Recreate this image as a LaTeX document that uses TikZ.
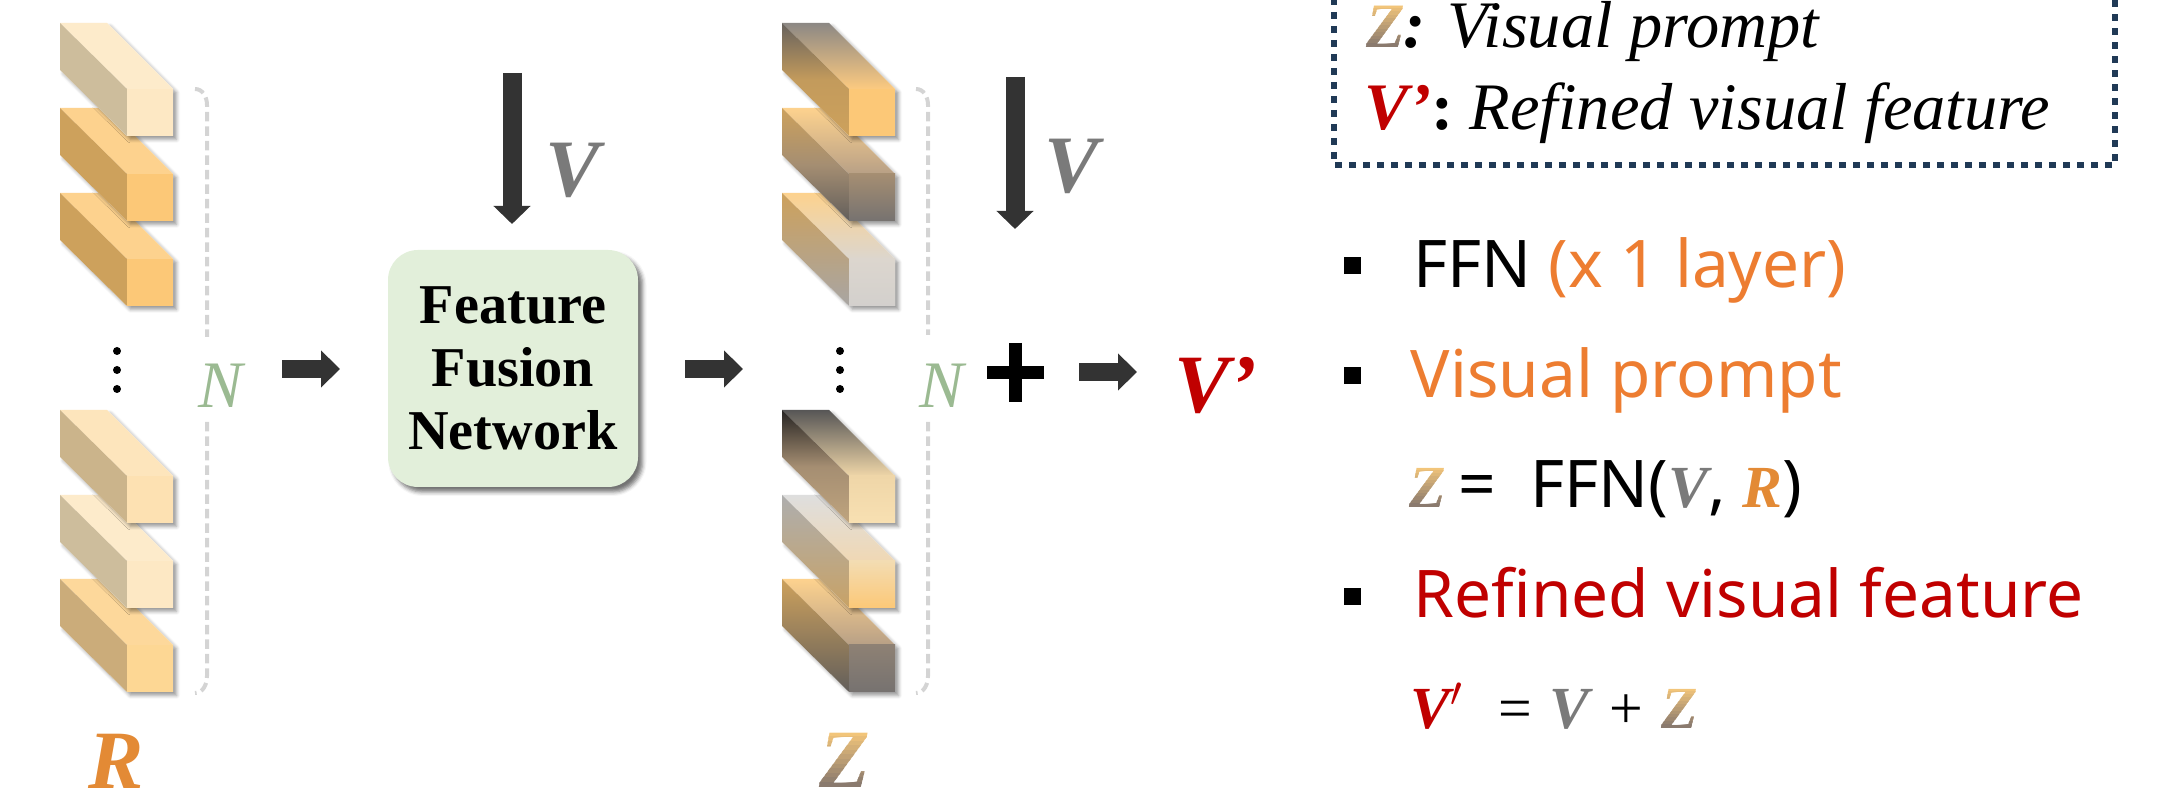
\documentclass[tikz,border=0pt]{standalone}
\usepackage{fontspec}
\setmainfont{Liberation Serif}
\newfontfamily\notosans{Noto Sans}
\usetikzlibrary{arrows.meta,shadows.blur}

\definecolor{arrowgray}{HTML}{333333}
\definecolor{boxgreen}{HTML}{E2EFDA}
\definecolor{ngreen}{HTML}{9BBA92}
\definecolor{vgray}{HTML}{7A7A7A}
\definecolor{rorange}{HTML}{E38A35}
\definecolor{txtorange}{HTML}{ED7D31}
\definecolor{vred}{HTML}{C00000}
\definecolor{legblue}{HTML}{203A56}
\definecolor{brkgray}{HTML}{D4D4D4}
\definecolor{ztop}{HTML}{F2C57A}
\definecolor{zbot}{HTML}{8A7A6E}
% bar faces
\definecolor{creamT}{HTML}{FDEBCB}\definecolor{creamS}{HTML}{CDBD9C}\definecolor{creamF}{HTML}{FDE8C4}
\definecolor{orgT}{HTML}{FDD28E}\definecolor{orgS}{HTML}{CDA15C}\definecolor{orgF}{HTML}{FCC877}
\definecolor{paleT}{HTML}{FDE5BC}\definecolor{paleS}{HTML}{CBB48B}\definecolor{paleF}{HTML}{FDE1B2}
\definecolor{midT}{HTML}{FDD89B}\definecolor{midS}{HTML}{CBAC7A}\definecolor{midF}{HTML}{FDD794}
\definecolor{gry1}{HTML}{8C8884}\definecolor{gry2}{HTML}{67625D}\definecolor{gry3}{HTML}{625E5B}
\definecolor{gry4}{HTML}{A8A5A3}\definecolor{gry5}{HTML}{575656}\definecolor{gry6}{HTML}{262423}
\definecolor{gry7}{HTML}{DEDEDE}\definecolor{gry8}{HTML}{AEAEAE}\definecolor{gry9}{HTML}{767270}
\definecolor{tan1}{HTML}{B8A086}\definecolor{tan2}{HTML}{A58E72}\definecolor{tan3}{HTML}{DCD6CE}
\definecolor{tan4}{HTML}{D3D0CD}\definecolor{tan5}{HTML}{EFD6A8}\definecolor{tan6}{HTML}{BFA47E}
\definecolor{tan7}{HTML}{F8E0B2}\definecolor{tan8}{HTML}{F0D8B4}\definecolor{tan9}{HTML}{C8A266}
\definecolor{tan10}{HTML}{F3DCB2}\definecolor{tan11}{HTML}{8E8174}\definecolor{tan12}{HTML}{FCCA80}

% gradient Z, built from thin clipped slices
% #1 x centre, #2 baseline, #3 cap height, #4 font size
\newcommand{\gradz}[4]{%
  \foreach \k in {0,...,11}{%
    \pgfmathtruncatemacro{\pct}{100-\k*100/11}%
    \begin{scope}
      \clip ({#1-60},{#2-#3+\k*#3/12-1-10*(\k==0)}) rectangle ({#1+60},{#2-#3+(\k+1)*#3/12+0.5+10*(\k==11)});
      \node[inner sep=0pt,anchor=base,text=ztop!\pct!zbot,font=\fontsize{#4}{#4}\selectfont\bfseries\itshape] at (#1,#2) {Z};
    \end{scope}}}

% one bar: #1,#2 back corner, #3 top face, #4 side face, #5 front face
\newcommand{\prism}[5]{%
  \fill[white,barshadow] (#1,#2) -- ++(47,0) -- ++(66,66) -- ++(0,47) -- ++(-46,0) -- ++(-67,-66) -- cycle;
  \path[#3] (#1,#2) -- ++(47,0) -- ++(66,66) -- ++(-46,0) -- cycle;
  \path[#4] (#1,#2) -- ++(67,66) -- ++(0,47) -- ++(-67,-66) -- cycle;
  \path[#5] ({#1+67},{#2+66}) rectangle ++(46,47);}

\begin{document}
\begin{tikzpicture}[x=0.1mm,y=-0.1mm]
\tikzset{
  barshadow/.style={blur shadow={shadow xshift=0.35mm,shadow yshift=-0.35mm,shadow blur radius=0.35mm,shadow opacity=40}},
  dot/.style={circle,fill,inner sep=0pt,minimum size=0.8mm},
  bulletsq/.style={fill,inner sep=0pt,minimum size=1.7mm},
  blockarr/.style={draw=arrowgray,line width=1.8mm,-{Triangle[length=1.9mm,width=3.6mm]}},
  downarr/.style={draw=arrowgray,line width=1.9mm,-{Triangle[length=1.8mm,width=3.6mm]}},
  brk/.style={draw=brkgray,line width=0.4mm,dash pattern=on 0.95mm off 0.5mm},
  fusebox/.style={fill=boxgreen,rounded corners=3mm,minimum width=25mm,minimum height=23.7mm,
    align=center,font=\fontsize{16}{17.9}\selectfont\bfseries,
    blur shadow={shadow xshift=0.45mm,shadow yshift=-0.5mm,shadow blur radius=0.4mm,shadow opacity=55}},
  biglab/.style={font=\fontsize{23.6}{26}\selectfont\bfseries\itshape,inner sep=0pt,anchor=base},
  nlab/.style={font=\fontsize{18.9}{20}\selectfont\itshape,text=ngreen,inner sep=0pt,anchor=base},
  bultxt/.style={font=\notosans\fontsize{18.7}{20}\selectfont,inner sep=0pt,anchor=base west},
  legtxt/.style={font=\fontsize{18.9}{20}\selectfont,inner sep=0pt,anchor=base west},
  frm/.style={font=\fontsize{17}{19}\selectfont,inner sep=0pt,anchor=base},
}
\useasboundingbox (0,0) rectangle (2160,806);

% R bars, lowest first so the upper ones overlap
\prism{60}{579}{fill=midT}{fill=midS}{fill=midF}
\prism{60}{495}{fill=creamT}{fill=creamS}{fill=creamF}
\prism{60}{410}{fill=paleT}{fill=paleS}{fill=paleF}
\prism{60}{193}{fill=orgT}{fill=orgS}{fill=orgF}
\prism{60}{108}{fill=orgT}{fill=orgS}{fill=orgF}
\prism{60}{23}{fill=creamT}{fill=creamS}{fill=creamF}

% Z bars
\prism{782}{579}{top color=orgT,bottom color=tan1}{top color=orgS,bottom color=gry3}{top color=tan11,bottom color=gry9}
\prism{782}{495}{top color=gry7,bottom color=tan8}{top color=gry8,bottom color=tan9}{top color=tan10,bottom color=orgF}
\prism{782}{410}{top color=gry5,bottom color=tan5}{top color=gry6,bottom color=tan6,middle color=tan2}{top color=tan5,bottom color=tan7}
\prism{782}{193}{top color=orgT,bottom color=tan3}{top color=orgS,bottom color=gry4}{top color=tan3,bottom color=tan4}
\prism{782}{108}{top color=orgT,bottom color=tan1}{top color=orgS,bottom color=gry3,middle color=tan2}{top color=tan2,bottom color=gry9}
\prism{782}{23}{top color=gry1,bottom color=tan12}{top color=gry2,bottom color=orgS,middle color=orgS!90!gry2}{fill=orgF}

% dots between the groups
\node[dot] (rd1) at (117,351) {};
\node[dot] (rd2) at (117,370) {};
\node[dot] (rd3) at (117,389) {};
\node[dot] (zd1) at (840,351) {};
\node[dot] (zd2) at (840,370) {};
\node[dot] (zd3) at (840,389) {};

% brackets with N
\draw[brk] (195,89) to[out=0,in=90] (207,105) -- (207,337);
\draw[brk] (207,422) -- (207,676) to[out=-90,in=0] (195,693);
\draw[brk] (916,89) to[out=0,in=90] (928,105) -- (928,335);
\draw[brk] (928,422) -- (928,676) to[out=-90,in=0] (916,693);
\node[nlab] (n1) at (221,408) {N};
\node[nlab] (n2) at (942,408) {N};

% column labels
\node[biglab,text=rorange] (rlab) at (116,789) {R};
\gradz{845}{788}{55}{23.6}

% fusion block
\node[fusebox] (ffn) at (513,368.5) {Feature\\Fusion\\Network};
\coordinate (v1s) at (512,73);
\coordinate (v1e) at (512,224);
\draw[downarr] (v1s) -- (v1e);
\node[biglab,text=vgray,font=\fontsize{23.2}{26}\selectfont\bfseries\itshape] (v1) at (573,197) {V};

\coordinate (a1s) at (282,369);
\coordinate (a1e) at (340,369);
\draw[blockarr] (a1s) -- (a1e);
\coordinate (a2s) at (685,369);
\coordinate (a2e) at (743,369);
\draw[blockarr] (a2s) -- (a2e);

% residual add
\coordinate (v2s) at (1015,77);
\coordinate (v2e) at (1015,229);
\draw[downarr] (v2s) -- (v2e);
\node[biglab,text=vgray,font=\fontsize{23.2}{26}\selectfont\bfseries\itshape] (v2) at (1072,193) {V};
\draw[line width=1.3mm] (987,372.5) -- (1044,372.5);
\draw[line width=1.3mm] (1015.5,343) -- (1015.5,402);
\coordinate (a3s) at (1079,372);
\coordinate (a3e) at (1137,372);
\draw[blockarr] (a3s) -- (a3e);
\node[biglab,text=vred] (vout) at (1216,413) {V’};

% legend
\draw[draw=legblue,line width=0.6mm,dash pattern=on 0.7mm off 0.7mm] (1334,-30) rectangle (2115,165);
\gradz{1386}{48}{42}{18}
\node[legtxt] (leg1) at (1403,48) {\textbf{\textit{:}} \textit{Visual prompt}};
\node[legtxt] (leg2) at (1364,130) {\textcolor{vred}{\bfseries\itshape V’}\textbf{:} \textit{Refined visual feature}};

% notes
\node[bulletsq] (b1) at (1352,266) {};
\node[bultxt] (t1) at (1413,288) {FFN \textcolor{txtorange}{(x 1 layer)}};
\node[bulletsq] (b2) at (1352,376) {};
\node[bultxt,text=txtorange] (t2) at (1410,398) {Visual prompt};
\gradz{1428}{508}{40}{17}
\node[bultxt] (f1) at (1458,508) {= \ FFN(\textcolor{vgray}{\rmfamily\fontsize{17}{19}\selectfont\bfseries\itshape V}, \textcolor{rorange}{\rmfamily\fontsize{17}{19}\selectfont\bfseries\itshape R})};
\node[bulletsq] (b3) at (1352,597) {};
\node[bultxt,text=vred] (t3) at (1413,618) {Refined visual feature};
\node[frm,anchor=base west,text=vred] (f2a) at (1410,729) {\bfseries\itshape V$'$};
\node[frm] (f2b) at (1515,729) {=};
\node[frm,text=vgray] (f2c) at (1569,729) {\bfseries\itshape V};
\node[frm] (f2d) at (1626,729) {+};
\gradz{1680}{729}{40}{17}
\end{tikzpicture}
\end{document}
